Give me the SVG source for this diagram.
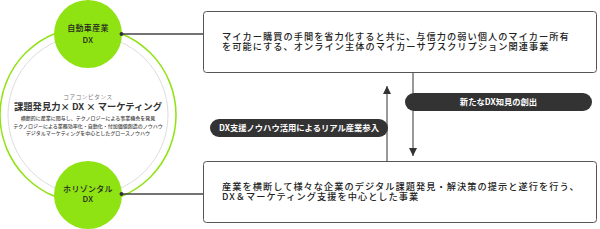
<svg xmlns="http://www.w3.org/2000/svg" width="600" height="229" viewBox="0 0 600 229">
<style>
  text { font-family: "Noto Sans CJK JP", "Noto Sans", sans-serif; }
  .box { fill: #ffffff; stroke: #555555; stroke-width: 1; }
  .boxtxt { font-size: 9.2px; font-weight: 500; fill: #222222; letter-spacing: 1.05px; }
  .pill { fill: #333333; }
  .pilltxt { font-size: 8.3px; font-weight: 700; fill: #ffffff; text-anchor: middle; }
  .node { fill: #8fe313; }
  .nodetxt { font-size: 8px; font-weight: 500; fill: #222222; text-anchor: middle; letter-spacing: 0.3px; }
  .link { stroke: #444444; stroke-width: 1.3; fill: none; }
  .dot { fill: #333333; }
  .arrow { stroke: #333333; stroke-width: 1; fill: none; }
  .small { font-size: 5px; font-weight: 500; fill: #444444; text-anchor: middle; }
</style>
<defs>
  <marker id="ah" viewBox="0 0 8 8" refX="8" refY="4" markerWidth="8" markerHeight="8" markerUnits="userSpaceOnUse" orient="auto">
    <path d="M0,0 L8,4 L0,8 Z" fill="#333333"/>
  </marker>
</defs>

<g id="core">
  <circle cx="88" cy="115" r="88" fill="none" stroke="#8fe313" stroke-width="1.5"/>
  <circle cx="88" cy="115" r="80" fill="none" stroke="#dddddd" stroke-width="1"/>
  <text x="88" y="98.8" style="font-size:5.6px; fill:#777777; text-anchor:middle; letter-spacing:0.6px;">コアコンピタンス</text>
  <text x="88" y="110.3" style="font-size:9.3px; font-weight:700; fill:#333333; text-anchor:middle;">課題発見力× DX × マーケティング</text>
  <text class="small" x="88" y="120.2">横断的に産業に関与し、テクノロジーによる事業機会を発見</text>
  <text class="small" x="88" y="127.6">テクノロジーによる業務効率化・自動化・付加価値創造のノウハウ</text>
  <text class="small" x="88" y="134.6">デジタルマーケティングを中心としたグロースノウハウ</text>
</g>

<g id="connectors">
  <line class="link" x1="121" y1="34" x2="203" y2="34"/>
  <line class="link" x1="121" y1="194" x2="203" y2="194"/>
  <line class="arrow" x1="387" y1="161" x2="387" y2="86" marker-end="url(#ah)"/>
  <line class="arrow" x1="413" y1="72" x2="413" y2="156" marker-end="url(#ah)"/>
</g>

<g id="node-auto">
  <circle class="node" cx="88" cy="34" r="34"/>
  <text class="nodetxt" x="88" y="30.5">自動車産業</text>
  <text class="nodetxt" x="88" y="42.5">DX</text>
  <circle class="dot" cx="121.5" cy="34" r="2"/>
</g>

<g id="node-horizontal">
  <circle class="node" cx="88" cy="195" r="34"/>
  <text class="nodetxt" x="88" y="191.5">ホリゾンタル</text>
  <text class="nodetxt" x="88" y="201.5">DX</text>
  <circle class="dot" cx="121.5" cy="194" r="2"/>
</g>

<g id="box-top">
  <rect class="box" x="203.5" y="11.5" width="393" height="61" rx="3"/>
  <text class="boxtxt" x="222" y="39.5">マイカー購買の手間を省力化すると共に、与信力の弱い個人のマイカー所有</text>
  <text class="boxtxt" x="222" y="50">を可能にする、オンライン主体のマイカーサブスクリプション関連事業</text>
</g>

<g id="box-bottom">
  <rect class="box" x="203.5" y="161.5" width="393" height="61" rx="3"/>
  <text class="boxtxt" x="222" y="189.5">産業を横断して様々な企業のデジタル課題発見・解決策の提示と遂行を行う、</text>
  <text class="boxtxt" x="222" y="200">DX＆マーケティング支援を中心とした事業</text>
</g>

<g id="pill-new">
  <rect class="pill" x="405" y="93" width="187" height="18" rx="9"/>
  <text class="pilltxt" x="498.5" y="105">新たなDX知見の創出</text>
</g>

<g id="pill-real">
  <rect class="pill" x="210" y="119" width="178" height="18" rx="9"/>
  <text class="pilltxt" x="299" y="131">DX支援ノウハウ活用によるリアル産業参入</text>
</g>
</svg>
